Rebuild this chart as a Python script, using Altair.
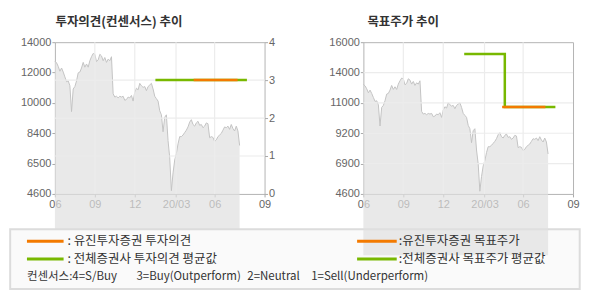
import altair as alt
import pandas as pd

# ---- data ----
price = [12825, 12720, 12500, 12200, 12400, 12150, 11850, 11550, 11600, 11300,
         9700, 11100, 11250, 11600, 12100, 12150, 12400, 12750, 12450, 12650,
         12450, 12850, 13100, 13300, 13250, 12800, 12900, 13250, 13150, 12850,
         13050, 12750, 12950, 12850, 13100, 10800, 10600, 10650, 10550, 10650,
         10600, 10650, 10400, 10450, 10600, 10550, 10700, 10350, 10900, 11150,
         11050, 11450, 11300, 11200, 11250, 11000, 11250, 11350, 11450, 11100,
         10650, 10500, 10350, 9750, 9500, 8450, 9350, 9500, 7900, 6850,
         4800, 5900, 6700, 7100, 7700, 8150, 8150, 8250, 8400, 8550,
         8750, 9050, 9200, 8900, 8800, 9000, 9100, 8850, 8900, 8700,
         8800, 9000, 8950, 8080, 8150, 8100, 7850, 7950, 8150, 8250,
         8350, 8550, 8750, 8700, 8800, 8600, 8900, 8650, 8500, 8800,
         8500, 7600]
x_domain = [0, 126]
x_tick_pos = [0, 24, 48, 72.8, 96, 126]
x_tick_labels = ["06", "09", "12", "20/03", "06", "09"]

left_y_ticks = [4600, 6480, 8360, 10240, 12120, 14000]
left_y_labels = ["4600", "6500", "8400", "10000", "12000", "14000"]
cons_ticks = [0, 1, 2, 3, 4]
right_y_ticks = [4600, 6880, 9160, 11440, 13720, 16000]
right_y_labels = ["4600", "6900", "9200", "11000", "14000", "16000"]

cons_avg_x = [60.4, 115.4]
cons_avg_y = [3, 3]
cons_eugene_x = [83.4, 109.8]
cons_eugene_y = [3, 3]
tp_avg_x = [60.6, 85, 85, 115.4]
tp_avg_y = [15120, 15120, 11125, 11125]
tp_eugene_x = [83.4, 109.4]
tp_eugene_y = [11125, 11125]

title_left = "투자의견(컨센서스) 추이"
title_right = "목표주가 추이"
legend_left = [": 유진투자증권 투자의견", ": 전체증권사 투자의견 평균값"]
legend_right = [":유진투자증권 목표주가", ":전체증권사 목표주가 평균값"]
consensus_notes = ["컨센서스:4=S/Buy", "3=Buy(Outperform)", "2=Neutral", "1=Sell(Underperform)"]

ORANGE = "#f37a00"
GREEN = "#78b800"
GRID = "#ececec"
FONT = "Liberation Sans"
KFONT = "Noto Sans CJK KR"

price_df = pd.DataFrame({"i": list(range(len(price))), "p": price})


def label_expr(vals, labels):
    expr = "''"
    for v, l in reversed(list(zip(vals, labels))):
        expr = f"datum.value == {v} ? '{l}' : ({expr})"
    return expr


x_axis = alt.Axis(values=x_tick_pos, labelExpr=label_expr(x_tick_pos, x_tick_labels),
                  title=None, grid=False, domain=False, tickSize=3, labelPadding=2,
                  tickColor="#aaaaaa", labelColor="#666666", labelFont=FONT, labelFontSize=11,
                  labelFlush=False, labelOverlap=False)
x_enc = lambda f: alt.X(f, type="quantitative", scale=alt.Scale(domain=x_domain, nice=False, zero=False), axis=x_axis)


def y_axis(vals, labels, orient):
    return alt.Axis(values=vals, labelExpr=label_expr(vals, labels), orient=orient, title=None,
                    grid=False, domain=False, tickSize=3, labelPadding=1, tickColor="#aaaaaa",
                    labelColor="#666666", labelFont=FONT, labelFontSize=11, labelOverlap=False,
                    labelFlush=False)


one = alt.Data(values=[{}])


def text_mark(txt, x, y, size=12.5, weight="normal", color="#333333", font=KFONT):
    return alt.Chart(one).mark_text(align="left", baseline="middle", fontSize=size, fontWeight=weight,
                                    color=color, font=font).encode(
        x=alt.value(x), y=alt.value(y), text=alt.value(txt))


def seg(x1, x2, y, color, w):
    return alt.Chart(one).mark_rule(color=color, strokeWidth=w).encode(
        x=alt.value(x1), x2=alt.value(x2), y=alt.value(y))


def line_df(xs, ys):
    return pd.DataFrame({"x": xs, "y": ys, "o": list(range(len(xs)))})


# ---------------- left chart ----------------
anchor = alt.Chart(one).mark_rect(fill="white", fillOpacity=0).encode(
    x=alt.value(-54.5), x2=alt.value(535.5), y=alt.value(-41), y2=alt.value(259))

area_left = alt.Chart(price_df).mark_area(color="#e0e0e0", line={"color": "#c4c4c4", "strokeWidth": 1}).encode(
    x=x_enc("i"),
    y=alt.Y("p:Q", scale=alt.Scale(domain=[left_y_ticks[0], left_y_ticks[-1]], nice=False, zero=False),
            axis=y_axis(left_y_ticks, left_y_labels, "left")))

cons_axis = y_axis(cons_ticks, [str(v) for v in cons_ticks], "right")
cons_scale = alt.Scale(domain=[0, 4], nice=False, zero=False)

vgrid_l = alt.Chart(pd.DataFrame({"x": x_tick_pos[1:-1]})).mark_rule(color=GRID, strokeWidth=1.2).encode(x=x_enc("x"))
hgrid_l = alt.Chart(pd.DataFrame({"y": cons_ticks[1:-1]})).mark_rule(color=GRID, strokeWidth=1.2).encode(
    y=alt.Y("y:Q", scale=cons_scale, axis=cons_axis))
cons_avg = alt.Chart(line_df(cons_avg_x, cons_avg_y)).mark_line(color=GREEN, strokeWidth=2.5, strokeCap="butt").encode(
    x=x_enc("x"), y=alt.Y("y:Q", scale=cons_scale, axis=cons_axis), order="o:Q")
cons_eug = alt.Chart(line_df(cons_eugene_x, cons_eugene_y)).mark_line(color=ORANGE, strokeWidth=2.5, strokeCap="butt").encode(
    x=x_enc("x"), y=alt.Y("y:Q", scale=cons_scale, axis=cons_axis), order="o:Q")

cons_layer = alt.layer(vgrid_l, hgrid_l, cons_avg, cons_eug)

# legend, left column (relative to the left plot's origin)
legend_left_parts = [
    alt.Chart(one).mark_rect(fill="#fafafa", stroke="#dcdcdc", strokeWidth=2).encode(
        x=alt.value(-44.8), x2=alt.value(525.7), y=alt.value(187.3), y2=alt.value(247.3)),
    seg(-28, 8.7, 199.3, ORANGE, 3),
    seg(-28, 8.7, 217.3, GREEN, 3),
    text_mark(legend_left[0], 12.5, 199.5),
    text_mark(legend_left[1], 12.5, 217.5),
]
for txt, xx in zip(consensus_notes, [-28, 81.7, 192.7, 256.7]):
    legend_left_parts.append(text_mark(txt, xx, 235.7, size=11.5))

left = alt.layer(
    anchor, area_left, cons_layer,
    text_mark(title_left, 0.5, -20.5, size=12.5, weight="bold", color="#333333"),
    *legend_left_parts
).resolve_scale(y="independent").properties(width=210, height=152)

# ---------------- right chart ----------------
tp_scale = alt.Scale(domain=[right_y_ticks[0], right_y_ticks[-1]], nice=False, zero=False)
tp_axis = y_axis(right_y_ticks, right_y_labels, "left")

area_right = alt.Chart(price_df).mark_area(color="#e0e0e0", line={"color": "#c4c4c4", "strokeWidth": 1}).encode(
    x=x_enc("i"), y=alt.Y("p:Q", scale=tp_scale, axis=tp_axis))
vgrid_r = alt.Chart(pd.DataFrame({"x": x_tick_pos[1:-1]})).mark_rule(color=GRID, strokeWidth=1.2).encode(x=x_enc("x"))
hgrid_r = alt.Chart(pd.DataFrame({"y": right_y_ticks[1:-1]})).mark_rule(color=GRID, strokeWidth=1.2).encode(
    y=alt.Y("y:Q", scale=tp_scale, axis=tp_axis))
tp_avg = alt.Chart(line_df(tp_avg_x, tp_avg_y)).mark_line(color=GREEN, strokeWidth=2.5, strokeCap="butt").encode(
    x=x_enc("x"), y=alt.Y("y:Q", scale=tp_scale, axis=tp_axis), order="o:Q")
tp_eug = alt.Chart(line_df(tp_eugene_x, tp_eugene_y)).mark_line(color=ORANGE, strokeWidth=2.5, strokeCap="butt").encode(
    x=x_enc("x"), y=alt.Y("y:Q", scale=tp_scale, axis=tp_axis), order="o:Q")

# legend, right column (relative to the right plot's origin)
legend_right_parts = [
    seg(-6.3, 33.4, 199.3, ORANGE, 3),
    seg(-6.3, 33.4, 217.3, GREEN, 3),
    text_mark(legend_right[0], 35.5, 199.5),
    text_mark(legend_right[1], 35.5, 217.5),
]

right = alt.layer(
    area_right, vgrid_r, hgrid_r, tp_avg, tp_eug,
    text_mark(title_right, 4, -20.5, size=12.5, weight="bold", color="#333333"),
    *legend_right_parts
).properties(width=210, height=152)

chart = alt.hconcat(left, right, spacing=99, bounds="flush").properties(
    padding={"left": 0, "top": 0, "right": 0, "bottom": 0},
    background="white",
).configure_view(stroke="#b4b4b4", strokeWidth=1)

chart.save("out.html", embed_options={"renderer": "svg", "actions": False})
